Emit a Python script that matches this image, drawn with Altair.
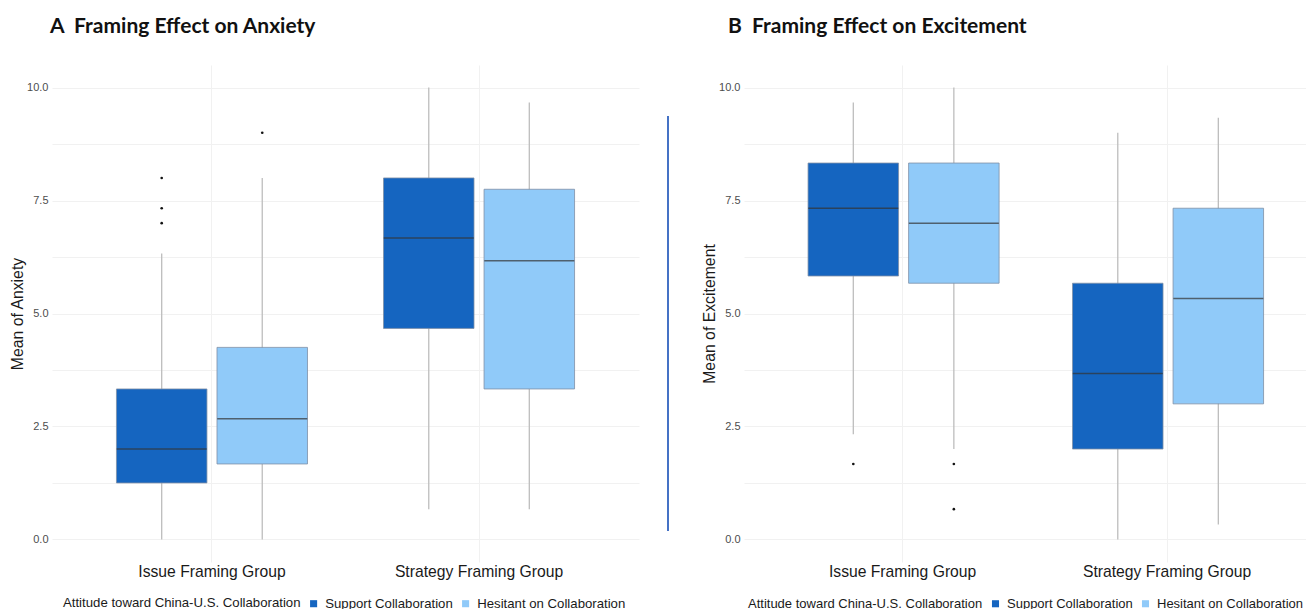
import altair as alt
import pandas as pd

groups = ["Issue Framing Group", "Strategy Framing Group"]
attitudes = ["Support Collaboration", "Hesitant on Collaboration"]
colors = ["#1565C0", "#90CAF9"]

box_group = ["Issue Framing Group", "Issue Framing Group",
             "Strategy Framing Group", "Strategy Framing Group"]
box_att = ["Support Collaboration", "Hesitant on Collaboration",
           "Support Collaboration", "Hesitant on Collaboration"]

# Panel A: anxiety
anx_lower = [0.0, 0.0, 0.67, 0.67]
anx_q1 = [1.25, 1.67, 4.67, 3.33]
anx_median = [2.0, 2.67, 6.67, 6.17]
anx_q3 = [3.33, 4.25, 8.0, 7.75]
anx_upper = [6.33, 8.0, 10.0, 9.67]
anx_out_group = ["Issue Framing Group"] * 4
anx_out_att = ["Support Collaboration"] * 3 + ["Hesitant on Collaboration"]
anx_out_val = [8.0, 7.33, 7.0, 9.0]

# Panel B: excitement
exc_lower = [2.33, 2.0, 0.0, 0.33]
exc_q1 = [5.83, 5.67, 2.0, 3.0]
exc_median = [7.33, 7.0, 3.67, 5.33]
exc_q3 = [8.33, 8.33, 5.67, 7.33]
exc_upper = [9.67, 10.0, 9.0, 9.33]
exc_out_group = ["Issue Framing Group"] * 3
exc_out_att = ["Support Collaboration", "Hesitant on Collaboration", "Hesitant on Collaboration"]
exc_out_val = [1.67, 1.67, 0.67]

y_ticks = [0, 1.25, 2.5, 3.75, 5, 6.25, 7.5, 8.75, 10]

FONT = "Liberation Sans"
H = 497


def make_panel(title, ytitle, lower, q1, med, q3, upper, og, oa, ov,
               width, pad_outer, align, title_dx, legend_x, legend_fs, sep=False):
    box = pd.DataFrame({"group": box_group, "att": box_att, "lower": lower,
                        "q1": q1, "median": med, "q3": q3, "upper": upper})
    out = pd.DataFrame({"group": og, "att": oa, "value": ov})

    xenc = alt.X("group:N", sort=groups,
                 scale=alt.Scale(domain=groups, paddingInner=0.247,
                                 paddingOuter=pad_outer, align=align),
                 axis=alt.Axis(title=None, labelAngle=0, labelFontSize=15.7,
                               labelFont=FONT, labelColor="#1a1a1a",
                               ticks=False, domain=False, grid=True,
                               gridColor="#f1f1f1", gridWidth=1,
                               bandPosition=0.5, labelPadding=2))
    xoff = alt.XOffset("att:N", sort=attitudes,
                       scale=alt.Scale(domain=attitudes, paddingInner=0.1,
                                       paddingOuter=0.05))
    yscale = alt.Scale(domain=[-0.5, 10.5], nice=False, zero=False)
    yaxis = alt.Axis(values=y_ticks,
                     labelExpr="datum.value % 2.5 == 0 ? format(datum.value, '.1f') : ''",
                     labelFont=FONT, labelFontSize=11, labelColor="#4d4d4d",
                     ticks=False, domain=False, grid=True, gridColor="#f1f1f1",
                     gridWidth=1, labelPadding=4, titleFont=FONT,
                     titleFontSize=15.8, titleFontWeight="normal",
                     titleColor="#1a1a1a", titlePadding=1)

    whisk = alt.Chart(box).mark_rule(color="#bdbdbd", strokeWidth=1.3).encode(
        x=xenc, xOffset=xoff,
        y=alt.Y("lower:Q", scale=yscale, axis=yaxis, title=ytitle),
        y2="upper:Q")
    bars = alt.Chart(box).mark_bar(stroke="#7f8fa6", strokeWidth=0.8).encode(
        x=xenc, xOffset=xoff,
        y=alt.Y("q1:Q", scale=yscale, axis=yaxis, title=ytitle),
        y2="q3:Q",
        color=alt.Color("att:N", sort=attitudes,
                        scale=alt.Scale(domain=attitudes, range=colors),
                        legend=alt.Legend(title="Attitude toward China-U.S. Collaboration",
                                          orient="none", legendX=legend_x, legendY=H + 35,
                                          direction="horizontal",
                                          titleOrient="left", titleFont=FONT,
                                          titleFontSize=legend_fs, titleFontWeight="normal",
                                          titleColor="#1a1a1a", titleLimit=500,
                                          titlePadding=6, labelFont=FONT,
                                          labelFontSize=legend_fs, labelColor="#1a1a1a",
                                          labelLimit=400,
                                          symbolType="square", symbolSize=50,
                                          symbolStrokeWidth=0, columnPadding=6,
                                          labelOffset=5,
                                          titleBaseline="middle")))
    meds = alt.Chart(box).mark_tick(color="#333333", thickness=1.5, size=90).encode(
        x=xenc, xOffset=xoff,
        y=alt.Y("median:Q", scale=yscale, axis=yaxis, title=ytitle))
    outs = alt.Chart(out).mark_circle(color="#111111", size=7, opacity=1).encode(
        x=xenc, xOffset=xoff,
        y=alt.Y("value:Q", scale=yscale, axis=yaxis, title=ytitle))

    layers = [whisk, bars, meds, outs]
    if sep:
        line = alt.Chart(box).mark_rule(color="#4472C4", strokeWidth=1.5).encode(
            x=alt.value(width + 29), y=alt.value(51), y2=alt.value(466))
        layers.append(line)

    return alt.layer(*layers).properties(
        width=width, height=H,
        title=alt.TitleParams(text=title, anchor="start", font="Lato",
                              fontSize=21, fontWeight="bold", color="#111111",
                              offset=28, dx=title_dx, frame="group"))


panel_a = make_panel("A\u00a0\u00a0Framing Effect on Anxiety", "Mean of Anxiety",
                     anx_lower, anx_q1, anx_median, anx_q3, anx_upper,
                     anx_out_group, anx_out_att, anx_out_val,
                     587, 0.2225, 0.5, -2, 11, 13.2, sep=True)
panel_b = make_panel("B\u00a0\u00a0Framing Effect on Excitement", "Mean of Excitement",
                     exc_lower, exc_q1, exc_median, exc_q3, exc_upper,
                     exc_out_group, exc_out_att, exc_out_val,
                     562, 0.186, 0.6, -16, 4, 13)

chart = alt.hconcat(panel_a, panel_b, spacing=105, bounds="flush").properties(
    padding={"left": 1, "top": 8, "right": 0, "bottom": 0},
    background="white",
).configure_view(stroke=None).resolve_scale(color="independent")

chart.save("out.html", embed_options={"renderer": "svg", "actions": False})
